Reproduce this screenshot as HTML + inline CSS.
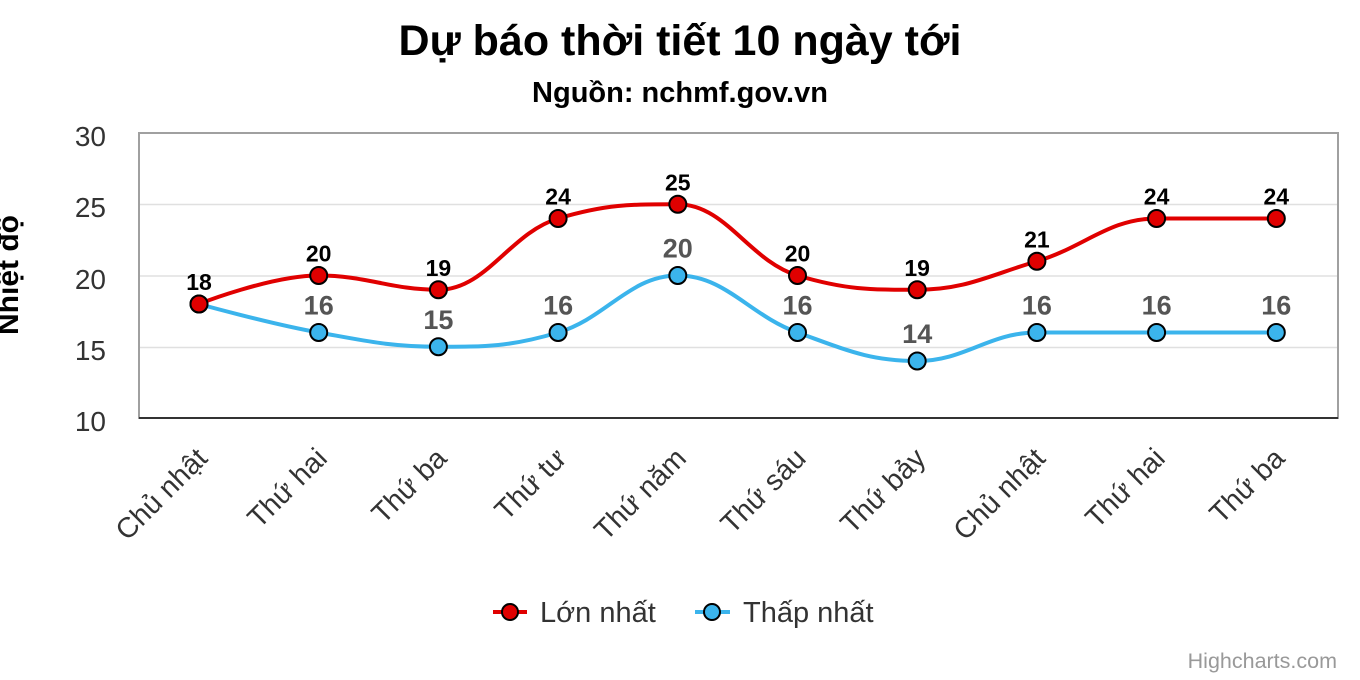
<!DOCTYPE html>
<html><head><meta charset="utf-8"><style>
html,body{margin:0;padding:0;background:#fff;width:1360px;height:680px;overflow:hidden}
svg{display:block}
text{font-family:"Liberation Sans",Arial,sans-serif}
</style></head><body>
<svg id="c" width="1360" height="680" xmlns="http://www.w3.org/2000/svg">
<rect width="1360" height="680" fill="#fff"/>
<text x="680" y="55" text-anchor="middle" font-size="43" font-weight="bold" fill="#000">Dự báo thời tiết 10 ngày tới</text>
<text x="680" y="102" text-anchor="middle" font-size="29" font-weight="bold" fill="#000">Nguồn: nchmf.gov.vn</text>
<g stroke="#e0e0e0" stroke-width="1.5">
<line x1="139" x2="1338" y1="204.5" y2="204.5"/>
<line x1="139" x2="1338" y1="276" y2="276"/>
<line x1="139" x2="1338" y1="347.5" y2="347.5"/>
</g>
<rect x="139" y="133" width="1199" height="285" fill="none" stroke="#a0a0a0" stroke-width="2"/>
<line x1="139" x2="1338" y1="418" y2="418" stroke="#333" stroke-width="2"/>
<g font-size="28" fill="#333" text-anchor="end">
<text x="106" y="146">30</text><text x="106" y="217">25</text><text x="106" y="289">20</text><text x="106" y="360">15</text><text x="106" y="431">10</text>
</g>
<text transform="translate(18,275) rotate(-90)" text-anchor="middle" font-size="30" font-weight="bold" fill="#000">Nhiệt độ</text>
<g id="xl" font-size="28.5" fill="#333" text-anchor="end"></g>
<g id="series"></g>
<g font-size="29" fill="#333">
<line x1="493" x2="527" y1="612" y2="612" stroke="#e00000" stroke-width="4"/>
<circle cx="510" cy="612" r="8" fill="#e00000" stroke="#000" stroke-width="2"/>
<text x="540" y="622">Lớn nhất</text>
<line x1="695" x2="730" y1="612" y2="612" stroke="#3bb4ec" stroke-width="4"/>
<circle cx="712" cy="612" r="8" fill="#3bb4ec" stroke="#000" stroke-width="2"/>
<text x="743" y="622">Thấp nhất</text>
</g>
<text x="1337" y="668" text-anchor="end" font-size="21.5" fill="#999">Highcharts.com</text>
</svg>
<script>
var cats=["Chủ nhật","Thứ hai","Thứ ba","Thứ tư","Thứ năm","Thứ sáu","Thứ bảy","Chủ nhật","Thứ hai","Thứ ba"];
var hi=[18,20,19,24,25,20,19,21,24,24], lo=[18,16,15,16,20,16,14,16,16,16];
var NS="http://www.w3.org/2000/svg";
function X(i){return 199+i*119.7}
function Y(v){return 418-(v-10)*14.25}
var xl=document.getElementById('xl');
cats.forEach(function(c,i){var t=document.createElementNS(NS,'text');t.setAttribute('transform','translate('+(X(i)+10)+',460) rotate(-45)');t.textContent=c;xl.appendChild(t);});
function path(d){
 var p=d.map(function(v,i){return [X(i),Y(v)]});var s='M'+p[0][0]+' '+p[0][1];var sm=1.5,den=2.5;
 var cps=[];
 for(var i=0;i<p.length;i++){
  if(i==0||i==p.length-1){cps.push(null);continue;}
  var x=p[i][0],y=p[i][1],a=p[i-1],b=p[i+1];
  var lx=(sm*x+a[0])/den,ly=(sm*y+a[1])/den,rx=(sm*x+b[0])/den,ry=(sm*y+b[1])/den;
  var corr=((ry-ly)*(rx-x))/(rx-lx)+y-ry;ly+=corr;ry+=corr;
  if(ly>a[1]&&ly>y){ly=Math.max(a[1],y);ry=2*y-ly}else if(ly<a[1]&&ly<y){ly=Math.min(a[1],y);ry=2*y-ly}
  if(ry>b[1]&&ry>y){ry=Math.max(b[1],y);ly=2*y-ry}else if(ry<b[1]&&ry<y){ry=Math.min(b[1],y);ly=2*y-ry}
  cps.push([lx,ly,rx,ry]);
 }
 for(var i=1;i<p.length;i++){
  var c1=cps[i-1]?[cps[i-1][2],cps[i-1][3]]:p[i-1];
  var c2=cps[i]?[cps[i][0],cps[i][1]]:p[i];
  s+=' C'+c1[0]+' '+c1[1]+' '+c2[0]+' '+c2[1]+' '+p[i][0]+' '+p[i][1];
 }
 return s;
}
var g=document.getElementById('series');
function draw(d,col,lab,fs,dy){
 var pa=document.createElementNS(NS,'path');pa.setAttribute('d',path(d));pa.setAttribute('fill','none');pa.setAttribute('stroke',col);pa.setAttribute('stroke-width','4');g.appendChild(pa);
 d.forEach(function(v,i){var c=document.createElementNS(NS,'circle');c.setAttribute('cx',X(i));c.setAttribute('cy',Y(v));c.setAttribute('r',8.5);c.setAttribute('fill',col);c.setAttribute('stroke','#000');c.setAttribute('stroke-width',2);g.appendChild(c);});
 return function(){d.forEach(function(v,i){if(lab=='#555'&&i==0)return;var t=document.createElementNS(NS,'text');t.setAttribute('x',X(i));t.setAttribute('y',Y(v)+dy);t.setAttribute('text-anchor','middle');t.setAttribute('font-size',fs);t.setAttribute('font-weight','bold');t.setAttribute('fill',lab);t.textContent=v;g.appendChild(t);});}
}
var l1=draw(lo,'#3bb4ec','#555',27,-18);
var l2=draw(hi,'#e00000','#000',23,-14);
l1();l2();
</script>
</body></html>
